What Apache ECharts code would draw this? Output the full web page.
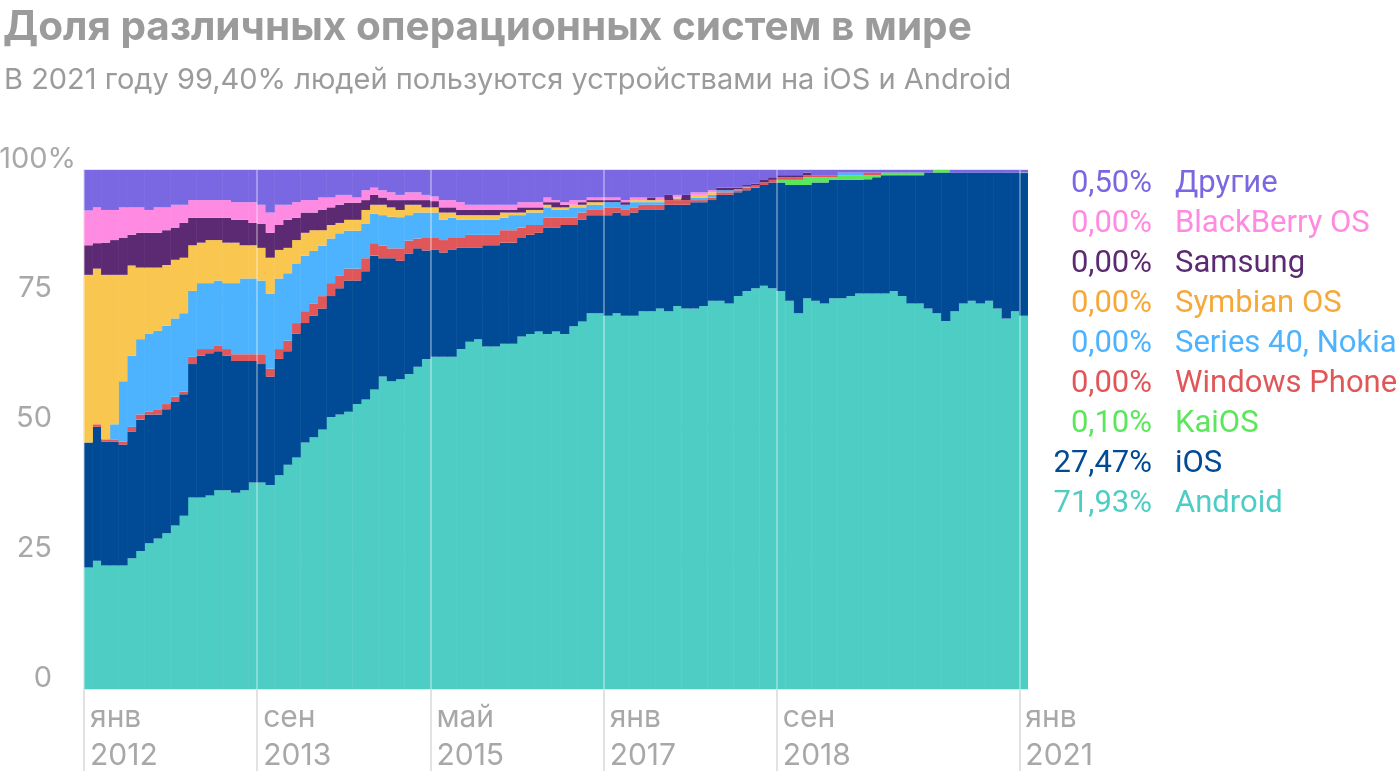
<!DOCTYPE html>
<html><head><meta charset="utf-8">
<script src="https://cdn.jsdelivr.net/npm/echarts@6/dist/echarts.min.js"></script>
<style>html,body{margin:0;padding:0;background:#fff}#c{width:1400px;height:780px}</style>
</head><body><div id="c"></div>
<script>
// categories: monthly, Jan 2012 .. Jan 2021
const monthNames = ['янв','фев','мар','апр','май','июн','июл','авг','сен','окт','ноя','дек'];
const months = [];
for (let y = 2012, m = 0; months.length < 109;) { months.push(monthNames[m] + ' ' + y); m++; if (m === 12) { m = 0; y++; } }

const tickPositions = [0, 20, 40, 60, 80, 108];
const tickLabels = ['янв\n2012', 'сен\n2013', 'май\n2015', 'янв\n2017', 'сен\n2018', 'янв\n2021'];

const android = [23.4,24.7,23.8,23.8,23.8,25.2,26.6,28.1,29.0,30.0, 31.5,33.4,36.9,36.9,37.3,38.3,38.3,37.8,38.3,39.8, 39.8,39.3,41.2,43.2,44.6,47.5,48.5,50.0,52.4,52.9, 53.4,54.9,55.8,57.7,60.2,59.3,59.7,60.7,62.1,63.6, 64.0,64.0,64.0,65.5,66.9,67.4,66.0,66.0,66.5,66.5, 67.9,68.4,68.9,68.4,68.9,68.4,69.9,70.8,72.4,72.4, 71.9,72.4,71.9,71.9,72.8,72.8,73.3,72.8,73.8,73.3, 73.3,73.8,74.8,74.8,74.3,75.7,76.7,77.2,77.7,77.2, 76.7,74.8,72.4,75.3,74.8,74.3,75.3,75.3,75.7,76.2, 76.2,76.2,76.2,76.7,75.7,74.3,74.3,73.3,72.4,70.9, 72.8,74.3,74.8,74.3,74.8,73.3,71.4,72.8,71.93];
const ios = [24.1,25.8,23.9,23.9,23.3,24.4,25.3,24.8,23.9,23.9, 23.8,23.4,25.7,27.3,27.4,26.8,25.9,25.4,24.9,23.4, 22.8,20.9,22.4,21.9,23.9,23.0,23.4,23.3,23.3,24.3, 25.3,23.8,24.7,25.8,22.8,23.7,22.8,23.2,22.8,20.9, 20.6,20.1,20.6,19.5,18.1,17.6,19.5,19.5,19.5,19.5, 19.0,19.1,19.0,20.5,20.0,21.0,19.5,19.6,18.9,18.9, 19.4,19.4,19.4,19.9,19.5,19.5,19.0,20.5,19.5,20.0, 20.5,20.0,19.4,20.4,20.9,20.0,19.4,19.4,19.4,20.4, 20.9,22.3,24.7,21.8,22.8,23.3,22.8,22.8,22.4,21.9, 22.0,22.4,22.8,22.3,23.3,24.7,24.7,26.2,27.1,28.6, 26.7,25.2,24.7,25.2,24.7,26.2,28.1,26.7,27.47];
const kaios = [0,0,0,0,0,0,0,0,0,0, 0,0,0,0,0,0,0,0,0,0, 0,0,0,0,0,0,0,0,0,0, 0,0,0,0,0,0,0,0,0,0, 0,0,0,0,0,0,0,0,0,0, 0,0,0,0,0,0,0,0,0,0, 0,0,0,0,0,0,0,0,0,0, 0,0,0,0,0,0,0,0,0,0, 0.5,1.0,1.0,1.5,1.0,1.0,0.5,0.9,0.9,0.9, 0.8,0.4,0.5,0.5,0.5,0.5,0.5,0,0.5,0.5, 0,0,0,0,0,0,0,0,0.1];
const windowsPhone = [0,0.5,0.4,0.4,0.6,0.9,1.0,0.5,1.0,1.0, 1.0,0.5,1.4,1.3,0.8,1.0,1.3,1.3,1.3,1.3, 1.9,1.5,1.9,2.0,2.0,2.3,2.4,2.4,2.5,2.5, 2.3,2.3,2.5,2.4,2.4,1.9,2.4,2.5,1.9,2.4, 2.3,2.4,2.3,1.9,2.5,2.5,2.0,2.0,2.4,2.4, 2.0,1.9,1.5,1.9,1.9,1.4,1.4,1.4,1.0,1.0, 1.5,1.0,1.0,1.0,1.0,1.0,1.0,0.9,0.9,0.9, 0.4,0.4,0.5,0.5,0.5,0.4,0.5,0.5,0.5,0.5, 0.5,0.5,0.5,0.4,0.4,0.4,0.4,0,0,0, 0.5,0.5,0,0,0,0,0,0,0,0, 0,0,0,0,0,0,0,0,0];
const series40 = [0,0,0,2.9,11.6,13.7,14.5,15.1,15.1,15.1, 15.1,15.1,12.7,12.7,12.7,12.6,12.7,13.7,14.6,14.6, 14.2,14.5,13.6,13.0,11.5,10.7,10.1,9.7,8.6,8.1, 7.3,7.3,6.7,5.7,5.9,6.1,6.0,4.9,5.0,4.9, 4.9,3.9,3.9,3.5,2.9,2.9,2.9,2.9,2.4,2.9, 2.4,2.4,2.4,2.0,1.5,1.5,2.0,1.0,1.0,1.0, 1.0,1.0,1.0,1.0,0.5,0.5,0.5,0,0.3,0, 0.5,0.5,0.5,0.4,0.4,0.2,0.2,0,0,0, 0,0,0,0,0,0,0,0.5,0.5,0.5, 0,0,0,0,0,0,0,0,0,0, 0,0,0,0,0,0,0,0,0];
const symbian = [32.3,30.0,31.7,28.8,20.5,17.4,13.8,12.7,12.2,11.7, 11.3,10.7,8.8,7.8,8.3,7.8,7.8,7.8,6.4,6.4, 6.3,6.9,5.5,4.9,4.5,4.4,4.0,3.0,2.6,2.0, 2.1,2.1,2.6,1.7,2.0,1.8,1.4,2.0,1.5,1.0, 1.0,1.4,1.0,0.9,0.9,0.9,0.9,0.9,1.0,0.5, 0.5,0.5,0.5,0.5,0.5,0.5,0.5,0.5,0.5,0.5, 0,0,0,0.4,0.4,0.4,0.4,0,0.2,0, 0.5,0.5,0.5,0,0,0,0,0,0,0, 0,0,0,0,0,0,0,0,0,0, 0,0,0,0,0,0,0,0,0,0, 0,0,0,0,0,0,0,0,0];
const samsung = [5.7,4.9,6.2,6.7,7.1,5.9,6.7,6.7,6.7,6.7, 6.2,6.7,5.3,4.8,4.3,4.3,4.8,4.4,4.9,4.3, 4.6,4.8,4.8,5.4,4.3,3.9,3.4,3.9,3.4,3.5, 3.3,3.3,1.9,1.9,1.4,1.4,1.9,0.9,0.9,1.4, 1.2,1.0,1.0,1.0,1.0,1.0,1.0,1.0,0.5,0.5, 1.0,0.5,0.5,0.5,1.0,0.5,0,0.5,0.4,0.4, 0.4,0.4,0.5,0,0,0.5,0,1.0,0,1.0, 0,0,0,0.5,0.5,0.3,0.3,0.3,0.6,0.5, 0.4,0.4,0.4,0.5,0,0,0,0,0,0, 0,0,0,0,0,0,0,0,0,0, 0,0,0,0,0,0,0,0,0];
const blackberry = [6.7,6.9,6.3,5.8,5.9,5.3,4.9,4.4,4.9,4.4, 4.4,3.5,3.4,3.4,3.4,3.4,3.4,3.4,3.4,4.0, 3.7,3.9,3.9,2.9,3.0,2.4,2.4,2.4,1.9,1.9, 1.5,1.0,1.9,1.4,1.4,1.5,1.0,1.5,1.5,1.0, 0.9,1.4,1.4,1.5,1.0,1.0,1.0,1.0,1.0,1.0, 1.0,1.0,1.0,0.9,0.4,0.5,0.9,0.4,0.5,0.5, 0.5,0.5,0.4,0.5,0.5,0,0.5,0,0.5,0, 0.5,0.5,0.4,0,0,0,0,0,0,0, 0,0,0,0,0,0,0,0,0,0, 0,0,0,0,0,0,0,0,0,0, 0,0,0,0,0,0,0,0,0];
const other = [7.8,7.2,7.7,7.7,7.2,7.2,7.2,7.7,7.2,7.2, 6.7,6.7,5.8,5.8,5.8,5.8,5.8,6.2,6.2,6.2, 6.7,8.2,6.7,6.7,6.2,5.8,5.8,5.3,5.3,4.8, 4.8,5.3,3.9,3.4,3.9,4.3,4.8,4.3,4.3,4.8, 5.1,5.8,5.8,6.2,6.7,6.7,6.7,6.7,6.7,6.7, 6.2,6.2,6.2,5.3,5.8,6.2,5.8,5.8,5.3,5.3, 5.3,5.3,5.8,5.3,5.3,5.3,5.3,4.8,4.8,4.8, 4.3,4.3,3.9,3.4,3.4,3.4,2.9,2.6,1.8,1.4, 1.0,1.0,1.0,0.5,1.0,1.0,1.0,0.5,0.5,0.5, 0.5,0.5,0.5,0.5,0.5,0.5,0.5,0.5,0,0, 0.5,0.5,0.5,0.5,0.5,0.5,0.5,0.5,0.5];

// series, bottom to top
const seriesNames = ['Android', 'iOS', 'KaiOS', 'Windows Phone', 'Series 40, Nokia', 'Symbian OS', 'Samsung', 'BlackBerry OS', 'Другие'];
const seriesValues = [android, ios, kaios, windowsPhone, series40, symbian, samsung, blackberry, other];
const legendValues = ['71,93%', '27,47%', '0,10%', '0,00%', '0,00%', '0,00%', '0,00%', '0,00%', '0,50%'];
const barColors = ['#4ecdc4', '#004a96', '#5ce65c', '#e15759', '#4db3ff', '#f9c74f', '#5c2a72', '#ff8ae2', '#7a67e2'];
const textColors = ['#4ecdc4', '#004a96', '#5ce65c', '#e15759', '#4db3ff', '#f6a93b', '#5c2a72', '#ff8ae2', '#7a67e2'];

const FONT = 'Inter';
const LEG_FONT = 'Roboto';
const chart = echarts.init(document.getElementById('c'), null, {renderer: 'canvas'});

const series = seriesNames.map((name, i) => ({
  name: name,
  type: 'bar',
  stack: 'share',
  xAxisIndex: 0,
  barWidth: '106%',
  barGap: '-100%',
  itemStyle: {color: barColors[i]},
  emphasis: {disabled: true},
  data: seriesValues[i].map(v => (v === 0 ? '-' : v))
}));

const legendData = seriesNames.slice().reverse().map(n => ({name: n, textStyle: {color: textColors[seriesNames.indexOf(n)]}}));
const legendCommon = {
  orient: 'vertical', top: 164, icon: 'none', itemWidth: 0, itemHeight: 30, itemGap: 9,
  selectedMode: false, data: legendData
};

const option = {
  animation: false,
  backgroundColor: '#ffffff',
  textStyle: {fontFamily: FONT},
  title: [
    {text: 'Доля различных операционных систем в мире', left: -2, top: 2,
     textStyle: {fontFamily: FONT, fontSize: 40.5, fontWeight: 'bold', color: '#9b9b9b'}},
    {text: 'В 2021 году 99,40% людей пользуются устройствами на iOS и Android', left: -1, top: 61,
     textStyle: {fontFamily: FONT, fontSize: 29, fontWeight: 'normal', color: '#9b9b9b'}}
  ],
  grid: {left: 84, right: 372, top: 170, bottom: 91, containLabel: false, outerBoundsMode: 'none'},
  legend: [
    Object.assign({}, legendCommon, {
      right: 238, align: 'right',
      formatter: function (name) { return legendValues[seriesNames.indexOf(name)]; },
      textStyle: {fontFamily: LEG_FONT, fontSize: 31, lineHeight: 30}
    }),
    Object.assign({}, legendCommon, {
      left: 1165, align: 'left',
      formatter: function (name) { return name; },
      textStyle: {fontFamily: LEG_FONT, fontSize: 31, lineHeight: 30}
    })
  ],
  xAxis: [
    {type: 'category', data: months, position: 'top', show: false, boundaryGap: true},
    {type: 'value', min: 0, max: 109, position: 'bottom', z: 10,
     axisLine: {show: false},
     axisTick: {show: true, customValues: tickPositions, length: 82, lineStyle: {color: '#e2e2e2', width: 2}},
     splitLine: {show: true, lineStyle: {color: 'rgba(255,255,255,0.33)', width: 2}},
     axisLabel: {
       customValues: tickPositions,
       formatter: function (v) { const k = tickPositions.indexOf(v); return k >= 0 ? tickLabels[k] : ''; },
       align: 'left', verticalAlign: 'top', margin: 10, padding: [0, 0, 0, 6],
       fontFamily: FONT, fontSize: 30, lineHeight: 38, color: '#a8a8a8'
     }}
  ],
  yAxis: {
    type: 'value', min: 0, max: 100, interval: 25,
    axisLine: {show: true, lineStyle: {color: '#e2e2e2', width: 2}},
    axisTick: {show: false},
    splitLine: {show: true, lineStyle: {color: '#e6e6e6', width: 2}},
    axisLabel: {
      margin: 8, align: 'right', verticalAlign: 'middle', padding: [0, 0, 22, 0],
      fontFamily: FONT, fontSize: 29, color: '#a8a8a8',
      formatter: function (v) { return v === 100 ? '100%' : v + '{s| }'; },
      rich: {s: {width: 24, fontSize: 29}}
    }
  },
  series: series
};
chart.setOption(option);
</script>
</body></html>
